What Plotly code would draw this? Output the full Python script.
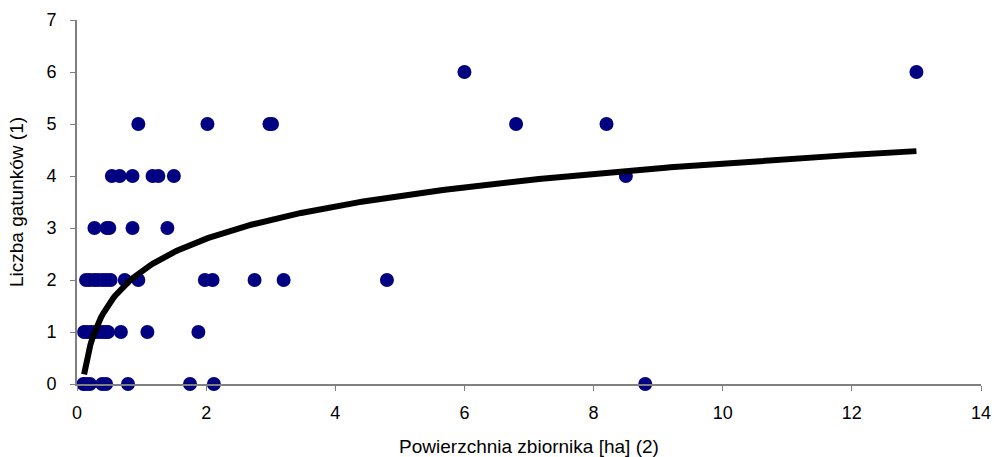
import numpy as np
import plotly.graph_objects as go

# Observed points: area [ha] and number of species
area = [6.0, 13.0,
        0.95, 2.02, 2.98, 3.02, 6.8, 8.2,
        0.54, 0.66, 0.86, 1.17, 1.26, 1.50, 8.5,
        0.27, 0.46, 0.50, 0.86, 1.40,
        0.14, 0.20, 0.27, 0.33, 0.40, 0.46, 0.52, 0.74, 0.95, 1.98, 2.10, 2.75, 3.20, 4.80,
        0.11, 0.16, 0.22, 0.28, 0.34, 0.40, 0.45, 0.48, 0.68, 1.09, 1.88,
        0.10, 0.14, 0.20, 0.39, 0.45, 0.79, 1.75, 2.12, 8.8]
species = [6, 6,
           5, 5, 5, 5, 5, 5,
           4, 4, 4, 4, 4, 4, 4,
           3, 3, 3, 3, 3,
           2, 2, 2, 2, 2, 2, 2, 2, 2, 2, 2, 2, 2, 2,
           1, 1, 1, 1, 1, 1, 1, 1, 1, 1, 1,
           0, 0, 0, 0, 0, 0, 0, 0, 0]

# Logarithmic trendline y = a*ln(x) + b (coefficients)
trend_a = 0.90
trend_b = 2.17
trend_x_min = 0.11
trend_x_max = 13.0

x_ticks = [0, 2, 4, 6, 8, 10, 12, 14]
y_ticks = [0, 1, 2, 3, 4, 5, 6, 7]

tx = np.linspace(trend_x_min, trend_x_max, 400)
ty = trend_a * np.log(tx) + trend_b

fig = go.Figure()
fig.add_trace(go.Scatter(x=area, y=species, mode="markers",
                         marker=dict(color="#000080", size=14, line=dict(width=0)),
                         cliponaxis=False, showlegend=False))
fig.add_trace(go.Scatter(x=tx, y=ty, mode="lines",
                         line=dict(color="black", width=6),
                         showlegend=False, cliponaxis=False))

tick_font = dict(family="Liberation Sans, Arial, sans-serif", size=18, color="black")
title_font = dict(family="Liberation Sans, Arial, sans-serif", size=19, color="black")
fig.update_layout(
    width=994, height=457,
    margin=dict(l=77, r=13, t=20, b=73),
    paper_bgcolor="white", plot_bgcolor="white",
    font=tick_font,
    xaxis=dict(range=[0, 14], tickvals=x_ticks, showgrid=False, zeroline=False,
               showline=True, linecolor="#808080", linewidth=2,
               ticks="outside", ticklen=5, tickcolor="#808080",
               ticklabelstandoff=6, tickfont=tick_font, automargin=False,
               title=dict(text="Powierzchnia zbiornika [ha] (2)", font=title_font, standoff=21)),
    yaxis=dict(range=[0, 7], tickvals=y_ticks, showgrid=False, zeroline=False,
               showline=True, linecolor="#808080", linewidth=2,
               ticks="outside", ticklen=5, tickcolor="#808080",
               ticklabelstandoff=10, tickfont=tick_font, automargin=False,
               title=dict(text="Liczba gatunków (1)", font=title_font, standoff=18)),
)

fig.write_html("out.html",
               config={"displayModeBar": False},
               post_script="document.body.style.margin='0';document.body.style.overflow='hidden';")
